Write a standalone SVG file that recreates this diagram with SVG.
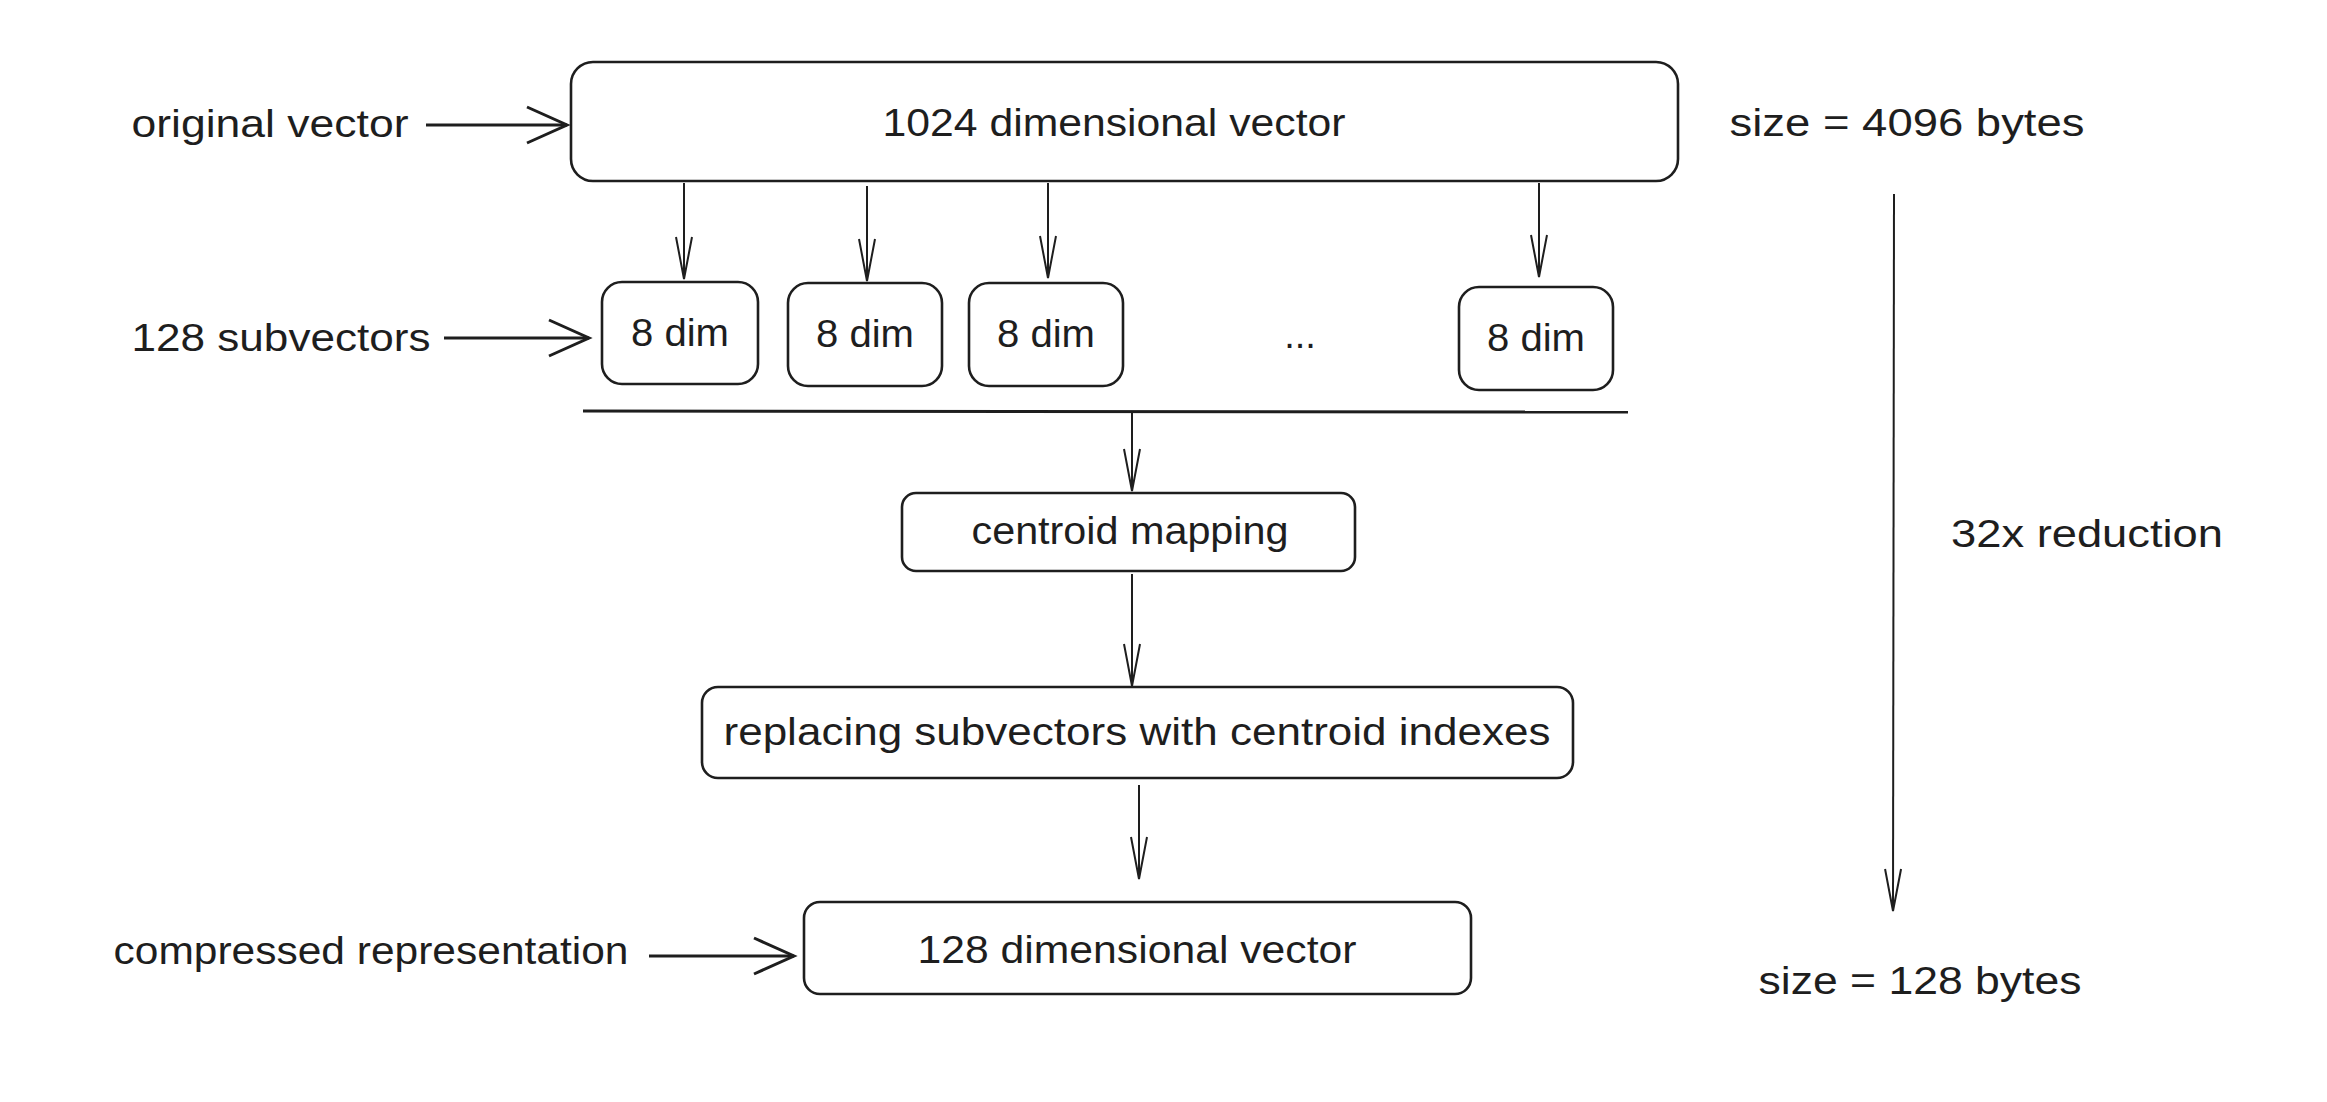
<svg xmlns="http://www.w3.org/2000/svg" width="2327" height="1102" viewBox="0 0 2327 1102">
<style>
.box{fill:#fff;stroke:#1e1e1e;stroke-width:2.6}
.t{font-family:"Liberation Sans",Arial,sans-serif;font-size:38px;fill:#1e1e1e;text-anchor:middle}
.c{stroke:#1e1e1e;stroke-width:2;fill:none}
.ch{stroke:#1e1e1e;stroke-width:3;fill:none}
</style>
<defs>
<marker id="av" markerUnits="userSpaceOnUse" markerWidth="50" markerHeight="50" refX="44" refY="20" orient="auto" viewBox="0 0 50 40">
<path d="M2,12 L44,20 L2,28" fill="none" stroke="#1e1e1e" stroke-width="2"/>
</marker>
<marker id="ah" markerUnits="userSpaceOnUse" markerWidth="50" markerHeight="50" refX="44" refY="20" orient="auto" viewBox="0 0 50 40">
<path d="M4,2 L44,20 L4,38" fill="none" stroke="#1e1e1e" stroke-width="3"/>
</marker>
</defs>
<rect width="2327" height="1102" fill="#fff"/>

<g id="connectors">
<line class="ch" x1="426" y1="125" x2="567" y2="125" marker-end="url(#ah)"/>
<line class="ch" x1="444" y1="338" x2="589" y2="338" marker-end="url(#ah)"/>
<line class="ch" x1="649" y1="956" x2="794" y2="956" marker-end="url(#ah)"/>
<line class="c" x1="684" y1="183" x2="684" y2="279" marker-end="url(#av)"/>
<line class="c" x1="867" y1="186" x2="867" y2="281" marker-end="url(#av)"/>
<line class="c" x1="1048" y1="183" x2="1048" y2="278" marker-end="url(#av)"/>
<line class="c" x1="1539" y1="183" x2="1539" y2="277" marker-end="url(#av)"/>
<line class="ch" x1="583" y1="411" x2="1628" y2="412"/>
<line class="c" x1="1132" y1="411" x2="1132" y2="491" marker-end="url(#av)"/>
<line class="c" x1="1132" y1="574" x2="1132" y2="686" marker-end="url(#av)"/>
<line class="c" x1="1139" y1="785" x2="1139" y2="879" marker-end="url(#av)"/>
<line class="c" x1="1894" y1="194" x2="1893" y2="911" marker-end="url(#av)"/>
</g>

<g id="node-original-label"><text class="t" x="270" y="137" textLength="277" lengthAdjust="spacingAndGlyphs">original vector</text></g>
<g id="node-1024">
<rect class="box" x="571" y="62" width="1107" height="119" rx="22"/>
<text class="t" x="1114" y="136" textLength="463" lengthAdjust="spacingAndGlyphs">1024 dimensional vector</text>
</g>
<g id="node-size4096"><text class="t" x="1907" y="136" textLength="355" lengthAdjust="spacingAndGlyphs">size = 4096 bytes</text></g>
<g id="node-sub-label"><text class="t" x="281" y="351" textLength="299" lengthAdjust="spacingAndGlyphs">128 subvectors</text></g>
<g id="node-d1"><rect class="box" x="602" y="282" width="156" height="102" rx="20"/><text class="t" x="680" y="346" textLength="98" lengthAdjust="spacingAndGlyphs">8 dim</text></g>
<g id="node-d2"><rect class="box" x="788" y="283" width="154" height="103" rx="20"/><text class="t" x="865" y="347" textLength="98" lengthAdjust="spacingAndGlyphs">8 dim</text></g>
<g id="node-d3"><rect class="box" x="969" y="283" width="154" height="103" rx="20"/><text class="t" x="1046" y="347" textLength="98" lengthAdjust="spacingAndGlyphs">8 dim</text></g>
<g id="node-dots"><text class="t" x="1300" y="348">...</text></g>
<g id="node-d4"><rect class="box" x="1459" y="287" width="154" height="103" rx="20"/><text class="t" x="1536" y="351" textLength="98" lengthAdjust="spacingAndGlyphs">8 dim</text></g>
<g id="node-centroid"><rect class="box" x="902" y="493" width="453" height="78" rx="14"/><text class="t" x="1130" y="544" textLength="317" lengthAdjust="spacingAndGlyphs">centroid mapping</text></g>
<g id="node-reduction"><text class="t" x="2087" y="547" textLength="272" lengthAdjust="spacingAndGlyphs">32x reduction</text></g>
<g id="node-replacing"><rect class="box" x="702" y="687" width="871" height="91" rx="16"/><text class="t" x="1137" y="745" textLength="827" lengthAdjust="spacingAndGlyphs">replacing subvectors with centroid indexes</text></g>
<g id="node-compressed-label"><text class="t" x="371" y="964" textLength="515" lengthAdjust="spacingAndGlyphs">compressed representation</text></g>
<g id="node-128"><rect class="box" x="804" y="902" width="667" height="92" rx="16"/><text class="t" x="1137" y="963" textLength="439" lengthAdjust="spacingAndGlyphs">128 dimensional vector</text></g>
<g id="node-size128"><text class="t" x="1920" y="994" textLength="323" lengthAdjust="spacingAndGlyphs">size = 128 bytes</text></g>
</svg>
